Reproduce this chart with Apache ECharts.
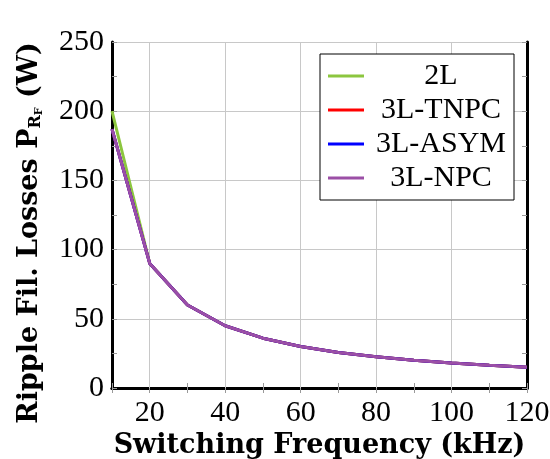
<!DOCTYPE html>
<html>
<head>
<meta charset="utf-8">
<script src="https://cdn.jsdelivr.net/npm/echarts@6/dist/echarts.min.js"></script>
<style>html,body{margin:0;padding:0;background:#fff}#chart{width:550px;height:459px}</style>
</head>
<body>
<div id="chart"></div>
<script>
// Switching frequency (kHz)
const freqs = [10, 20, 30, 40, 50, 60, 70, 80, 90, 100, 110, 120];
// Ripple filter losses (W) per topology
const loss2L     = [200, 90, 60, 45, 36, 30, 25.7, 22.5, 20, 18, 16.4, 15];
const loss3LTNPC = [187, 90, 60, 45, 36, 30, 25.7, 22.5, 20, 18, 16.4, 15];
const loss3LASYM = [187, 90, 60, 45, 36, 30, 25.7, 22.5, 20, 18, 16.4, 15];
const loss3LNPC  = [187, 90, 60, 45, 36, 30, 25.7, 22.5, 20, 18, 16.4, 15];
const seriesNames = ['2L', '3L-TNPC', '3L-ASYM', '3L-NPC'];
const seriesColors = ['#8cc63f', '#ff0000', '#0000ff', '#9b4fa6'];
// Vertical grid positions and labelled x ticks
const xGridValues = [20, 40, 60, 80, 100];
const xLabelValues = [20, 40, 60, 80, 100, 120];

const FONT = 'Liberation Serif';
const TITLE_FONT = 'DejaVu Serif';
const chart = echarts.init(document.getElementById('chart'), null, {renderer: 'canvas'});

const pairs = arr => freqs.map((f, i) => [f, arr[i]]);
const dataSets = [loss2L, loss3LTNPC, loss3LASYM, loss3LNPC];

const frame = {lineStyle: {color: '#000', width: 3}};
const tickStyle = {show: true, inside: true, length: 5, lineStyle: {color: '#999', width: 1}};
const minorTickStyle = {show: true, splitNumber: 2, length: 5, lineStyle: {color: '#999', width: 1}};

const series = seriesNames.map((name, i) => ({
  name: name,
  type: 'line',
  data: pairs(dataSets[i]),
  showSymbol: false,
  symbol: 'none',
  lineStyle: {color: seriesColors[i], width: 3},
  itemStyle: {color: seriesColors[i]},
  z: 3 + i
}));
// vertical grid lines at the labelled frequencies
series[0].markLine = {
  silent: true,
  symbol: ['none', 'none'],
  label: {show: false},
  lineStyle: {color: '#c8c8c8', width: 1, type: 'solid'},
  data: xGridValues.map(v => ({xAxis: v})),
  z: 1
};

chart.setOption({
  animation: false,
  backgroundColor: '#fff',
  grid: {left: 112, right: 23, top: 42, bottom: 71, containLabel: false, outerBoundsMode: 'none'},
  legend: {
    left: 320, top: 54,
    orient: 'vertical',
    itemWidth: 36, itemHeight: 3, itemGap: 4,
    backgroundColor: '#fff',
    borderColor: '#000', borderWidth: 1,
    padding: [7, 8, 7, 8],
    icon: 'rect',
    data: seriesNames,
    formatter: n => '{t|' + n + '}',
    textStyle: {
      fontFamily: FONT, fontSize: 30,
      rich: {t: {fontFamily: FONT, fontSize: 30, color: '#000', width: 144, align: 'center'}}
    }
  },
  graphic: [{
    type: 'text',
    x: 30, y: 233,
    rotation: Math.PI / 2,
    style: {
      text: 'Ripple Fil. Losses P{s|R}{ss|F} (W)',
      fontFamily: TITLE_FONT, fontWeight: 'bold', fontSize: 27, fill: '#000',
      align: 'center', verticalAlign: 'middle',
      rich: {
        s: {fontFamily: TITLE_FONT, fontWeight: 'bold', fontSize: 16, fill: '#000', padding: [11, 0, 0, 0]},
        ss: {fontFamily: TITLE_FONT, fontWeight: 'bold', fontSize: 11, fill: '#000', padding: [18, 0, 0, 0]}
      }
    }
  }],
  xAxis: [{
    type: 'value', min: 10, max: 120, interval: 10, position: 'bottom',
    name: 'Switching Frequency (kHz)', nameLocation: 'middle', nameGap: 43,
    nameTextStyle: {fontFamily: TITLE_FONT, fontWeight: 'bold', fontSize: 27, color: '#000'},
    axisLine: frame, axisTick: tickStyle,
    axisLabel: {
      fontFamily: FONT, fontSize: 30, color: '#000', margin: 10,
      formatter: v => (xLabelValues.indexOf(v) >= 0 ? String(v) : '')
    },
    splitLine: {show: false}
  }, {
    type: 'value', min: 10, max: 120, interval: 10, position: 'top',
    axisLine: frame, axisTick: tickStyle, axisLabel: {show: false}, splitLine: {show: false}
  }],
  yAxis: [{
    type: 'value', min: 0, max: 250, interval: 50, position: 'left',
    axisLine: frame, axisTick: tickStyle, minorTick: minorTickStyle,
    axisLabel: {fontFamily: FONT, fontSize: 30, color: '#000', margin: 8},
    splitLine: {show: true, lineStyle: {color: '#c8c8c8', width: 1}}
  }, {
    type: 'value', min: 0, max: 250, interval: 50, position: 'right',
    axisLine: frame, axisTick: tickStyle, minorTick: minorTickStyle,
    axisLabel: {show: false}, splitLine: {show: false}
  }],
  series: series
});
</script>
</body>
</html>
